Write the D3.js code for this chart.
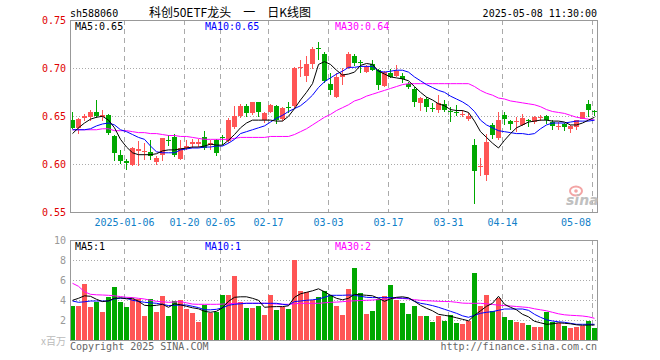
<!DOCTYPE html>
<html><head><meta charset="utf-8">
<script src="https://cdn.jsdelivr.net/npm/d3@7"></script>
<style>body{margin:0;background:#fff}svg{display:block}</style>
</head><body>
<script>
// ---- data ----
const openP  = [0.646,0.638,0.648,0.649,0.655,0.649,0.651,0.630,0.610,0.603,0.599,0.614,0.613,0.613,0.602,0.610,0.625,0.628,0.606,0.617,0.621,0.621,0.628,0.620,0.625,0.628,0.624,0.639,0.650,0.661,0.653,0.665,0.646,0.655,0.661,0.647,0.660,0.661,0.700,0.692,0.705,0.721,0.715,0.684,0.670,0.691,0.700,0.713,0.707,0.696,0.705,0.698,0.682,0.695,0.692,0.692,0.684,0.678,0.664,0.668,0.659,0.657,0.663,0.656,0.654,0.651,0.647,0.620,0.597,0.589,0.641,0.627,0.651,0.645,0.644,0.641,0.646,0.644,0.648,0.650,0.644,0.6395,0.642,0.637,0.639,0.647,0.663,0.656];
const highP  = [0.654,0.648,0.652,0.657,0.667,0.657,0.652,0.631,0.615,0.606,0.618,0.624,0.622,0.625,0.609,0.627,0.631,0.632,0.625,0.625,0.626,0.626,0.635,0.625,0.626,0.631,0.648,0.661,0.663,0.663,0.665,0.665,0.655,0.663,0.662,0.660,0.665,0.701,0.709,0.713,0.722,0.727,0.717,0.695,0.695,0.700,0.717,0.715,0.709,0.703,0.709,0.699,0.697,0.699,0.703,0.695,0.686,0.681,0.670,0.670,0.664,0.672,0.667,0.660,0.662,0.657,0.653,0.626,0.607,0.632,0.643,0.655,0.654,0.646,0.649,0.652,0.647,0.650,0.651,0.651,0.646,0.644,0.643,0.641,0.646,0.655,0.667,0.657];
const lowP   = [0.637,0.632,0.645,0.645,0.648,0.645,0.631,0.603,0.600,0.594,0.598,0.598,0.604,0.605,0.599,0.603,0.619,0.608,0.604,0.615,0.617,0.618,0.615,0.615,0.609,0.620,0.622,0.637,0.648,0.649,0.651,0.649,0.643,0.653,0.642,0.645,0.653,0.659,0.691,0.686,0.699,0.709,0.685,0.672,0.669,0.683,0.699,0.702,0.695,0.695,0.697,0.677,0.680,0.690,0.691,0.685,0.678,0.660,0.656,0.655,0.655,0.653,0.655,0.644,0.650,0.649,0.645,0.559,0.588,0.583,0.626,0.625,0.641,0.636,0.634,0.640,0.639,0.642,0.645,0.642,0.636,0.636,0.635,0.633,0.636,0.647,0.649,0.650];
const closeP = [0.638,0.647,0.650,0.655,0.650,0.651,0.633,0.612,0.603,0.601,0.617,0.616,0.614,0.609,0.607,0.627,0.624,0.610,0.617,0.619,0.623,0.623,0.617,0.622,0.612,0.627,0.646,0.650,0.661,0.653,0.665,0.655,0.653,0.662,0.646,0.659,0.659,0.700,0.701,0.704,0.720,0.720,0.687,0.677,0.691,0.694,0.715,0.706,0.706,0.701,0.698,0.683,0.696,0.691,0.697,0.689,0.680,0.665,0.669,0.660,0.658,0.664,0.657,0.655,0.653,0.652,0.650,0.593,0.598,0.623,0.631,0.646,0.647,0.642,0.645,0.648,0.645,0.649,0.649,0.646,0.640,0.640,0.639,0.640,0.646,0.655,0.657,0.655];
const ma5P  = [0.632,0.638,0.643,0.647,0.649,0.650,0.646,0.638,0.626,0.618,0.612,0.610,0.610,0.610,0.611,0.614,0.615,0.615,0.616,0.617,0.618,0.618,0.619,0.621,0.620,0.620,0.625,0.631,0.638,0.643,0.646,0.646,0.646,0.646,0.645,0.645,0.650,0.658,0.667,0.675,0.684,0.704,0.707,0.704,0.698,0.693,0.694,0.696,0.703,0.705,0.704,0.697,0.694,0.691,0.690,0.689,0.687,0.681,0.675,0.670,0.667,0.663,0.661,0.657,0.656,0.656,0.654,0.645,0.634,0.628,0.622,0.617,0.625,0.632,0.638,0.641,0.644,0.645,0.646,0.646,0.645,0.645,0.644,0.641,0.641,0.643,0.646,0.649];
const ma10P = [0.636,0.636,0.636,0.637,0.640,0.642,0.643,0.641,0.636,0.634,0.631,0.628,0.626,0.619,0.613,0.612,0.612,0.612,0.615,0.616,0.617,0.617,0.618,0.618,0.619,0.619,0.622,0.626,0.632,0.634,0.636,0.638,0.640,0.644,0.648,0.651,0.655,0.658,0.661,0.666,0.672,0.680,0.686,0.690,0.694,0.697,0.701,0.701,0.702,0.702,0.702,0.697,0.696,0.697,0.698,0.698,0.696,0.691,0.687,0.683,0.680,0.677,0.675,0.671,0.668,0.665,0.661,0.655,0.646,0.641,0.638,0.635,0.634,0.633,0.632,0.632,0.631,0.632,0.637,0.641,0.643,0.643,0.643,0.644,0.645,0.645,0.645,0.646];
const ma30P = [0.636,0.636,0.636,0.636,0.636,0.637,0.637,0.635,0.635,0.635,0.634,0.633,0.633,0.632,0.632,0.631,0.630,0.630,0.629,0.629,0.628,0.627,0.626,0.626,0.626,0.626,0.626,0.627,0.628,0.628,0.628,0.628,0.628,0.629,0.629,0.629,0.629,0.631,0.634,0.637,0.641,0.645,0.649,0.652,0.656,0.659,0.662,0.666,0.668,0.671,0.673,0.675,0.677,0.679,0.681,0.683,0.684,0.684,0.684,0.684,0.684,0.684,0.684,0.684,0.684,0.684,0.684,0.681,0.677,0.674,0.672,0.669,0.668,0.666,0.665,0.664,0.663,0.662,0.660,0.657,0.655,0.654,0.653,0.651,0.649,0.648,0.647,0.646];
const volume = [3.43,3.43,5.63,3.33,3.87,2.83,4.37,5.33,3.83,3.33,4.13,4.1,2.43,4.13,2.83,4.43,2.43,3.93,4.03,3.13,2.73,1.83,3.53,2.73,2.83,4.53,4.53,6.43,3.83,3.23,3.23,3.43,2.53,4.53,3.03,3.33,3.13,8.03,4.93,4.83,4.03,4.33,4.93,4.5,3.43,2.53,5.13,7.23,4.73,2.63,2.93,4.13,4.43,5.53,4.03,3.73,2.63,3.43,2.43,2.43,1.83,2.43,1.93,2.53,1.73,1.63,1.93,6.73,3.43,4.53,2.93,4.23,2.33,2.03,1.83,1.73,1.53,1.33,1.33,2.83,1.83,1.73,1.43,1.23,1.33,1.43,1.93,1.23];
const volMA5  = [4.0,4.2,4.45,4.4,4.1,3.87,3.95,4.2,4.25,4.15,4.2,3.9,3.5,3.45,3.5,3.6,3.3,3.65,3.55,3.4,3.25,3.15,2.9,2.8,2.9,3.25,3.9,4.3,4.35,4.35,4.2,4.0,3.3,3.35,3.37,3.37,3.45,4.3,4.65,4.8,4.95,5.15,4.85,4.5,4.2,4.05,4.2,4.6,4.55,4.5,4.45,4.2,3.9,4.15,4.3,4.35,4.25,3.9,3.5,3.2,2.95,2.6,2.5,2.4,2.25,2.1,1.95,2.5,2.95,3.4,3.7,4.4,3.6,3.3,3.05,2.6,2.35,1.9,1.75,1.6,1.65,1.75,1.7,1.65,1.55,1.5,1.53,1.53];
const volMA10 = [3.93,3.8,3.85,3.93,3.93,3.93,3.93,4.15,4.2,4.2,4.0,3.9,3.8,3.75,3.7,3.6,3.47,3.5,3.53,3.53,3.4,3.27,3.05,3.05,3.1,3.25,3.5,3.6,3.65,3.7,3.7,3.7,3.7,3.7,3.7,3.6,3.53,3.87,3.93,4.0,4.05,4.13,4.3,4.5,4.5,4.5,4.53,4.5,4.4,4.3,4.27,4.27,4.27,4.27,4.25,4.22,4.2,3.9,3.7,3.6,3.47,3.3,3.1,2.9,2.7,2.45,2.3,2.5,2.7,2.8,2.87,3.0,3.13,3.13,3.13,3.13,3.0,2.6,2.3,2.05,1.93,1.85,1.8,1.7,1.6,1.6,1.6,1.6];
const volMA30 = [5.7,5.4,4.85,4.6,4.55,4.53,4.5,4.45,4.37,4.3,4.27,4.2,4.13,4.0,3.9,3.85,3.8,3.83,3.87,3.75,3.62,3.6,3.6,3.6,3.6,3.62,3.65,3.7,3.7,3.7,3.7,3.7,3.7,3.67,3.63,3.6,3.6,3.65,3.7,3.7,3.7,3.7,3.75,3.8,3.82,3.86,3.92,3.95,3.98,4.0,4.03,4.07,4.1,4.15,4.2,4.18,4.13,4.06,4.0,3.96,3.93,3.9,3.88,3.87,3.8,3.72,3.7,3.7,3.7,3.65,3.58,3.52,3.47,3.43,3.38,3.33,3.28,3.15,3.05,2.95,2.8,2.65,2.55,2.5,2.47,2.43,2.35,2.2];
const dateTickIdx = [9,19,25,33,43,53,63,72,87];
const dateTickLabels = ["2025-01-06","01-20","02-05","02-17","03-03","03-17","03-31","04-14","05-08"];
const priceTicks = [0.75,0.70,0.65,0.60,0.55];
const volTicks = [10,8,6,4,2];
const priceMALabels = ["MA5:0.65","MA10:0.65","MA30:0.64"];
const volMALabels = ["MA5:1","MA10:1","MA30:2"];

// ---- drawing ----
const W=660,H=360, L=70, R=597, T=20, B=212, VT=240, VB=340;
const RED="#ff5555", GREEN="#00a800", GRID="#aaaaaa", FRAME="#999999";
const MONO="'DejaVu Sans Mono', 'Liberation Mono', monospace";
const CJK="'Noto Sans CJK SC', sans-serif";
const svg=d3.select("body").append("svg").attr("width",W).attr("height",H);
const n=closeP.length;
const x=d3.scaleLinear().domain([0,n]).range([L,L+6*n]);
const y=d3.scaleLinear().domain([0.55,0.75]).range([212.3,20.3]);
const vy=d3.scaleLinear().domain([0,10]).range([340.3,240.3]);
const cx=i=>x(i)+2.5;
const idx=d3.range(n);

// gridlines
function grids(top,bot,yTicks,yS){
  svg.append("g").selectAll("line").data(yTicks).join("line")
    .attr("x1",L).attr("x2",R).attr("y1",d=>Math.round(yS(d))+0.5).attr("y2",d=>Math.round(yS(d))+0.5)
    .attr("stroke",GRID).attr("stroke-dasharray","1,2");
  svg.append("g").selectAll("line").data(dateTickIdx).join("line")
    .attr("x1",d=>x(d)+0.5).attr("x2",d=>x(d)+0.5).attr("y1",top).attr("y2",bot)
    .attr("stroke",GRID).attr("stroke-dasharray","5,4");
}
grids(T,B,[0.70,0.65,0.60],y);
grids(VT,VB,[8,6,4,2],vy);

// candles
const cg=svg.append("g");
const col=i=>closeP[i]>=openP[i]?RED:GREEN;
cg.selectAll(".wick").data(idx).join("rect")
  .attr("x",i=>x(i)+2).attr("width",1)
  .attr("y",i=>Math.round(y(highP[i])))
  .attr("height",i=>Math.max(1,Math.round(y(lowP[i]))-Math.round(y(highP[i]))))
  .attr("fill",col);
cg.selectAll(".body").data(idx).join("rect")
  .attr("x",i=>x(i)).attr("width",5)
  .attr("y",i=>Math.round(y(Math.max(openP[i],closeP[i]))))
  .attr("height",i=>Math.max(1,Math.round(y(Math.min(openP[i],closeP[i])))-Math.round(y(Math.max(openP[i],closeP[i])))))
  .attr("fill",col);

// MA lines
function maLine(arr,yS,color){
  svg.append("path").datum(arr)
    .attr("d",d3.line().x((d,i)=>cx(i)).y(d=>yS(d)))
    .attr("fill","none").attr("stroke",color).attr("stroke-width",1);
}
maLine(ma30P,y,"#ff00ff");maLine(ma10P,y,"#0000ff");maLine(ma5P,y,"#000000");

// volume bars
svg.append("g").selectAll("rect").data(idx).join("rect")
  .attr("x",i=>x(i)).attr("width",5)
  .attr("y",i=>Math.round(vy(volume[i])))
  .attr("height",i=>340-Math.round(vy(volume[i])))
  .attr("fill",col);
maLine(volMA30,vy,"#ff00ff");maLine(volMA10,vy,"#0000ff");maLine(volMA5,vy,"#000000");

// frames
function frame(t,b){
  svg.append("rect").attr("x",L+0.5).attr("y",t+0.5).attr("width",R-L).attr("height",b-t)
    .attr("fill","none").attr("stroke",FRAME);
}
frame(T,B);frame(VT,VB);

// sina watermark
const wm=svg.append("g");
wm.append("ellipse").attr("cx",576).attr("cy",191).attr("rx",6).attr("ry",4.5).attr("fill","none").attr("stroke","#f3a5a5").attr("stroke-width",2);
wm.append("circle").attr("cx",576).attr("cy",191).attr("r",1.8).attr("fill","#f3a5a5");
wm.append("text").attr("x",566).attr("y",205).text("sina")
  .attr("font-family","'DejaVu Sans', sans-serif").attr("font-size",14).attr("font-weight","bold").attr("font-style","italic").attr("fill","#c0c0c0");

// axis labels
const axY=d3.axisLeft(y).tickValues(priceTicks).tickFormat(d3.format(".2f")).tickSize(0).tickPadding(4);
const gy=svg.append("g").attr("transform",`translate(${L},0)`).call(axY);
gy.select(".domain").remove();
gy.selectAll("text").attr("fill","#e00000").attr("font-family",MONO).attr("font-size",10);
const axV=d3.axisLeft(vy).tickValues(volTicks).tickFormat(d3.format("d")).tickSize(0).tickPadding(4);
const gv=svg.append("g").attr("transform",`translate(${L},0)`).call(axV);
gv.select(".domain").remove();
gv.selectAll("text").attr("fill","#999").attr("font-family",MONO).attr("font-size",10);

svg.append("g").selectAll("text").data(dateTickIdx).join("text")
  .attr("x",(d,k)=>k===dateTickIdx.length-1?x(d)-1:x(d)+0.5)
  .attr("y",226).attr("text-anchor",(d,k)=>k===dateTickIdx.length-1?"end":"middle")
  .attr("fill","#1080c8").attr("font-family",MONO).attr("font-size",10)
  .text((d,k)=>dateTickLabels[k]);

function txt(xp,yp,s,color,anchor,size,fam){
  return svg.append("text").attr("x",xp).attr("y",yp).attr("text-anchor",anchor||"start")
    .attr("fill",color).attr("font-family",fam||MONO).attr("font-size",size||10).text(s);
}
txt(70,17,"sh588060","#000");
txt(230,17,"科创50ETF龙头\u3000一\u3000日K线图","#000","middle",12,CJK);
txt(597,17,"2025-05-08 11:30:00","#000","end");
const maColors=["#000","#0000ff","#ff00ff"], maX=[75,205,335];
priceMALabels.forEach((s,k)=>txt(maX[k],30,s,maColors[k]));
volMALabels.forEach((s,k)=>txt(maX[k],250,s,maColors[k]));
txt(66,345,"x百万","#bbbbbb","end",10,CJK);
txt(70,350,"Copyright 2025 SINA.COM","#666");
txt(597,350,"http://finance.sina.com.cn","#666","end");
</script>
</body></html>
